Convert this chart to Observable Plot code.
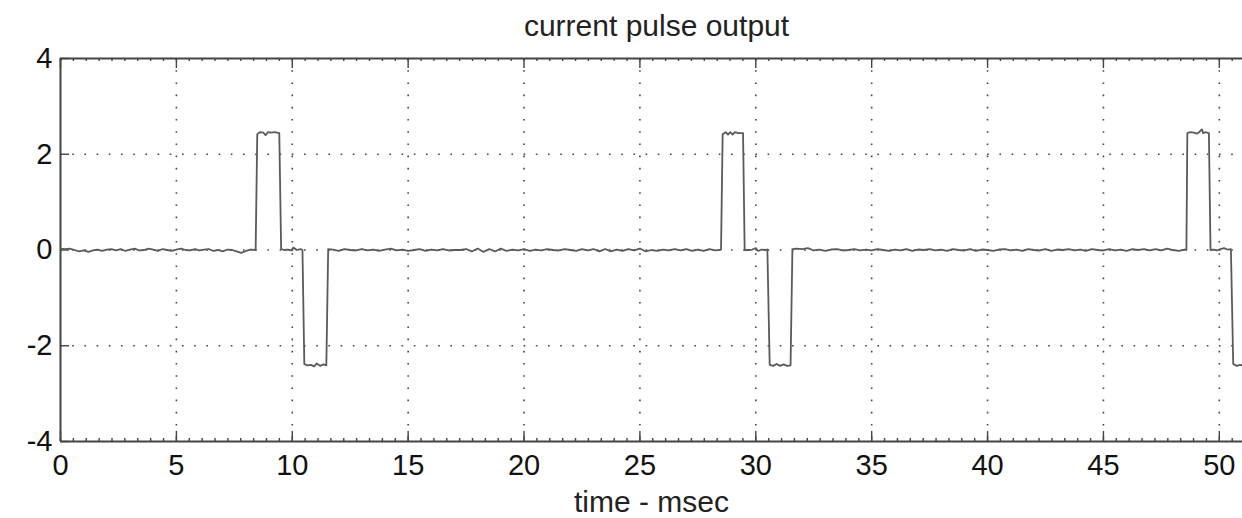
<!DOCTYPE html>
<html>
<head>
<meta charset="utf-8">
<script src="https://cdn.jsdelivr.net/npm/d3@7"></script>
<script src="https://cdn.jsdelivr.net/npm/@observablehq/plot@0.6"></script>
<style>
  html, body { margin: 0; padding: 0; background: #fff; }
  #chart { width: 1242px; height: 518px; overflow: hidden; }
</style>
</head>
<body>
<div id="chart"></div>
<script>
const titleText = "current pulse output";
const xLabelText = "time - msec";
const xTicks = [0, 5, 10, 15, 20, 25, 30, 35, 40, 45, 50];
const yTicks = [-4, -2, 0, 2, 4];
const yGrid = [-2, 0, 2];
const xGrid = [5, 10, 15, 20, 25, 30, 35, 40, 45, 50];
const xDomain = [0, 51];
const yDomain = [-4, 4];

// [time (ms), current]
const quiet1 = [
  [0,0.03],[0.2,0.02],[0.4,0.03],[0.6,0.00],[0.8,-0.03],[1.0,-0.01],[1.2,-0.04],[1.4,-0.01],
  [1.6,0.01],[1.8,-0.02],[2.0,0.01],[2.2,0.02],[2.4,-0.01],[2.6,0.02],[2.8,-0.02],[3.0,0.01],
  [3.2,0.03],[3.4,-0.01],[3.6,0.00],[3.8,0.03],[4.0,0.01],[4.2,-0.02],[4.4,0.02],[4.6,0.00],
  [4.8,-0.02],[5.0,0.01],[5.2,0.03],[5.4,0.00],[5.6,-0.01],[5.8,0.02],[6.0,-0.01],[6.2,0.01],
  [6.4,0.02],[6.6,-0.02],[6.8,0.00],[7.0,-0.03],[7.2,0.01],[7.4,0.00],[7.6,-0.03],[7.8,-0.06],
  [8.0,-0.02],[8.2,0.01],[8.4,0.00]
];
const pulseA = [
  [8.42,0.01],[8.49,2.42],[8.6,2.46],[8.75,2.45],[8.85,2.40],[8.95,2.46],[9.1,2.45],[9.25,2.46],
  [9.44,2.44],[9.52,0.02],[9.65,0.00],[9.8,0.01],[9.95,-0.01],[10.05,0.05],[10.2,0.00],[10.35,0.02],
  [10.44,0.00],[10.52,-2.38],[10.65,-2.41],[10.8,-2.40],[10.95,-2.43],[11.05,-2.37],[11.2,-2.42],
  [11.35,-2.39],[11.47,-2.41],[11.55,0.02]
];
const quiet2 = [
  [11.75,0.01],[12.0,-0.02],[12.25,0.02],[12.5,0.00],[12.75,-0.01],[13.0,0.02],[13.25,-0.01],[13.5,0.01],
  [13.75,-0.02],[14.0,0.01],[14.25,0.03],[14.5,-0.01],[14.75,0.01],[15.0,-0.02],[15.25,0.00],[15.5,0.02],
  [15.75,-0.02],[16.0,0.01],[16.25,-0.01],[16.5,0.02],[16.75,-0.01],[17.0,0.00],[17.25,0.00],[17.5,0.02],
  [17.75,-0.03],[18.0,0.03],[18.25,-0.04],[18.5,0.02],[18.75,-0.03],[19.0,0.03],[19.25,-0.02],[19.5,0.01],
  [19.75,-0.01],[20.0,0.02],[20.25,-0.02],[20.5,0.01],[20.75,-0.01],[21.0,0.02],[21.25,0.00],[21.5,-0.01],
  [21.75,0.02],[22.0,0.00],[22.25,-0.02],[22.5,0.02],[22.75,-0.01],[23.0,0.02],[23.25,-0.03],[23.5,0.02],
  [23.75,-0.03],[24.0,0.01],[24.25,-0.02],[24.5,0.02],[24.75,-0.01],[25.0,0.03],[25.25,-0.03],[25.5,0.00],
  [25.75,-0.02],[26.0,0.01],[26.25,-0.01],[26.5,0.02],[26.75,-0.01],[27.0,0.02],[27.25,-0.02],[27.5,0.01],
  [27.75,-0.02],[28.0,0.02],[28.25,-0.01],[28.5,0.01]
];
const pulseB = [
  [28.57,2.42],[28.7,2.46],[28.8,2.41],[28.9,2.46],[29.0,2.41],[29.1,2.46],[29.25,2.44],[29.45,2.44],
  [29.52,0.00],[29.7,0.00],[29.85,0.01],[30.0,0.04],[30.1,-0.02],[30.25,0.01],[30.4,0.00],[30.5,0.01],
  [30.6,-2.40],[30.75,-2.42],[30.9,-2.38],[31.05,-2.42],[31.2,-2.39],[31.35,-2.42],[31.5,-2.41],[31.58,0.02]
];
const quiet3 = [
  [31.75,0.03],[32.0,0.02],[32.25,0.04],[32.5,-0.01],[32.75,0.01],[33.0,-0.02],[33.25,0.01],[33.5,0.02],
  [33.75,-0.01],[34.0,0.00],[34.25,0.02],[34.5,-0.01],[34.75,0.01],[35.0,-0.01],[35.25,0.02],[35.5,0.00],
  [35.75,-0.02],[36.0,0.01],[36.25,-0.01],[36.5,0.02],[36.75,-0.02],[37.0,0.01],[37.25,0.00],[37.5,0.02],
  [37.75,-0.01],[38.0,0.01],[38.25,-0.02],[38.5,0.02],[38.75,0.00],[39.0,-0.01],[39.25,0.02],[39.5,-0.02],
  [39.75,0.01],[40.0,0.00],[40.25,-0.02],[40.5,0.01],[40.75,0.02],[41.0,-0.01],[41.25,0.01],[41.5,-0.02],
  [41.75,0.02],[42.0,0.00],[42.25,-0.01],[42.5,0.02],[42.75,-0.02],[43.0,0.01],[43.25,0.00],[43.5,0.02],
  [43.75,-0.01],[44.0,0.01],[44.25,-0.02],[44.5,0.02],[44.75,0.00],[45.0,-0.01],[45.25,0.02],[45.5,-0.01],
  [45.75,0.01],[46.0,-0.02],[46.25,0.02],[46.5,0.00],[46.75,0.02],[47.0,-0.01],[47.25,0.02],[47.5,-0.01],
  [47.75,0.03],[48.0,0.00],[48.25,-0.02],[48.5,0.01]
];
const pulseC = [
  [48.58,0.00],[48.62,2.44],[48.75,2.46],[48.9,2.45],[49.05,2.43],[49.15,2.47],[49.25,2.52],[49.3,2.44],
  [49.4,2.46],[49.55,2.44],[49.62,0.00],[49.75,0.01],[49.9,-0.01],[50.05,0.02],[50.2,0.04],[50.35,0.01],
  [50.5,0.02],[50.6,-2.38],[50.75,-2.42],[50.9,-2.40],[51.0,-2.41]
];

const trace = [...quiet1, ...pulseA, ...quiet2, ...pulseB, ...quiet3, ...pulseC];
const minorX = d3.range(0, 51, 5 / 9);

const W = 1242, H = 518, ML = 60, MR = 0, MT = 58, MB = 77;
const frameH = H - MT - MB, frameW = W - ML - MR;
const ink = "#444";
const font = "'Liberation Sans', Arial, sans-serif";
const hyphenFormat = d => (d < 0 ? "-" + Math.abs(d) : String(d));

const chart = Plot.plot({
  width: W,
  height: H,
  marginLeft: ML,
  marginRight: MR,
  marginTop: MT,
  marginBottom: MB,
  style: { fontFamily: font, background: "#fff", color: "#222" },
  x: { domain: xDomain },
  y: { domain: yDomain },
  marks: [
    Plot.gridX(xGrid, { stroke: ink, strokeOpacity: 1, strokeWidth: 1.6, strokeDasharray: "1.6 10.6" }),
    Plot.gridY(yGrid, { stroke: ink, strokeOpacity: 1, strokeWidth: 1.6, strokeDasharray: "1.6 10.6" }),
    // frame edges
    Plot.ruleX([xDomain[0]], { stroke: ink, strokeWidth: 2 }),
    Plot.ruleY([yDomain[0], yDomain[1]], { stroke: ink, strokeWidth: 2 }),
    // major ticks (inward), bottom and top
    Plot.tickX(xTicks, { stroke: ink, strokeWidth: 1.4, insetTop: frameH - 10 }),
    Plot.tickX(xTicks, { stroke: ink, strokeWidth: 1.4, insetBottom: frameH - 10 }),
    // minor ticks
    Plot.tickX(minorX, { stroke: ink, strokeWidth: 1.4, insetTop: frameH - 3 }),
    Plot.tickX(minorX, { stroke: ink, strokeWidth: 1.4, insetBottom: frameH - 3 }),
    // y ticks (inward, left)
    Plot.tickY(yTicks, { stroke: ink, strokeWidth: 1.4, insetRight: frameW - 9 }),
    Plot.axisX(xTicks, { tickSize: 0, tickPadding: 13, fontSize: 29, fill: "#111", label: null, tickFormat: hyphenFormat }),
    Plot.axisY(yTicks, { tickSize: 0, tickPadding: 8, fontSize: 29, fill: "#111", label: null, tickFormat: hyphenFormat }),
    Plot.line(trace, { x: d => d[0], y: d => d[1], stroke: "#5a5a5a", strokeWidth: 1.8, curve: "linear" }),
    Plot.text([titleText], { frameAnchor: "top", dx: 5, dy: -23, lineAnchor: "bottom", fontSize: 30, fill: "#222" }),
    Plot.text([xLabelText], { frameAnchor: "bottom", dy: 70, lineAnchor: "bottom", fontSize: 30, fill: "#222" })
  ]
});
document.getElementById("chart").append(chart);
</script>
</body>
</html>
